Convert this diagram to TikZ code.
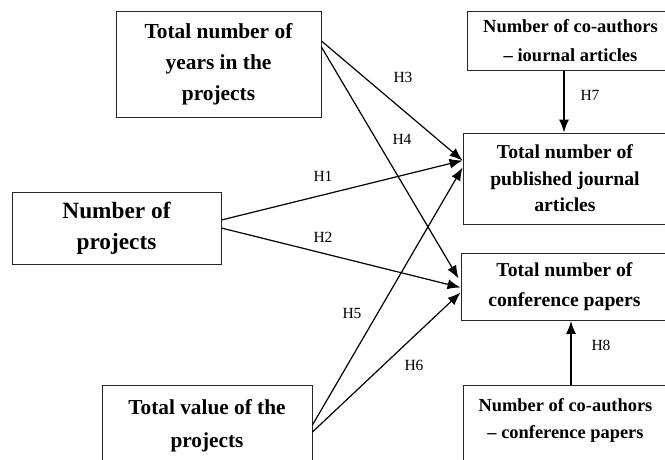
\documentclass[tikz,border=0pt]{standalone}
\usepackage{fontspec}
\setmainfont{Liberation Serif}
\usetikzlibrary{arrows.meta, calc}

\tikzset{
	varbox/.style={draw=black!85, line width=0.9pt, align=center, inner sep=0pt},
	hyp/.style={line width=1.2pt, -{Latex[length=13pt,width=10pt]}},
	hlabel/.style={font=\fontsize{15.5}{18}\selectfont},
}

\begin{document}
\begin{tikzpicture}[x=1pt, y=-1pt]
	\useasboundingbox (0,0) rectangle (665,459);
	\clip (0,0) rectangle (665,459);
	% independent variables
	\node [varbox, minimum width=205pt, minimum height=106pt, font=\fontsize{21.4}{31}\selectfont\bfseries] (years) at (218.5,64) {Total number of\\years in the\\projects};
	\node [varbox, minimum width=209pt, minimum height=72pt, font=\fontsize{23.3}{31}\selectfont\bfseries] (projects) at (116.5,228) {Number of\\projects};
	\node [varbox, minimum width=210pt, minimum height=110pt, font=\fontsize{21.3}{33}\selectfont\bfseries] (value) at (207,440) {Total value of the\\projects\\\mbox{}};
	% dependent variables
	\node [varbox, minimum width=204pt, minimum height=91pt, font=\fontsize{19.7}{26.5}\selectfont\bfseries] (journal) at (565,178.5) {Total number of\\published journal\\articles};
	\node [varbox, minimum width=207pt, minimum height=67pt, font=\fontsize{19.7}{30}\selectfont\bfseries] (conf) at (564.5,287) {Total number of\\conference papers};
	% co-authors
	\node [varbox, minimum width=207pt, minimum height=59pt, font=\fontsize{18.5}{29}\selectfont\bfseries] (cojournal) at (570.5,41) {Number of co-authors\\– iournal articles};
	\node [varbox, minimum width=205pt, minimum height=94pt, font=\fontsize{18.4}{27}\selectfont\bfseries] (coconf) at (565.5,432) {Number of co-authors\\– conference papers\\\mbox{}};

	% hypotheses
	\draw [hyp] ($(projects.east)+(0,-8)$) -- ($(journal.west)+(0,-18)$);
	\draw [hyp] (projects.east) -- ($(conf.west)+(0,0.5)$);
	\draw [hyp] ($(years.east)+(0,-23)$) -- ($(journal.west)+(0,-18)$);
	\draw [hyp] ($(years.east)+(0,-17)$) -- ($(conf.west)+(-2,-8.5)$);
	\draw [hyp] ($(value.east)+(0,-15)$) -- ($(journal.west)+(0,-11)$);
	\draw [hyp] ($(value.east)+(0,-8)$) -- ($(conf.west)+(0,5.5)$);
	\draw [hyp] ([xshift=-6.5pt]cojournal.south) -- ([xshift=-1pt]journal.north);
	\draw [hyp] ([xshift=5.5pt]coconf.north) -- ([xshift=6.5pt]conf.south);

	\node [hlabel] (h1) at (323,176) {H1};
	\node [hlabel] (h2) at (323,237) {H2};
	\node [hlabel] (h3) at (403,77) {H3};
	\node [hlabel] (h4) at (402,139) {H4};
	\node [hlabel] (h5) at (352,313) {H5};
	\node [hlabel] (h6) at (414,365) {H6};
	\node [hlabel] (h7) at (590,95) {H7};
	\node [hlabel] (h8) at (601,345) {H8};
\end{tikzpicture}
\end{document}
